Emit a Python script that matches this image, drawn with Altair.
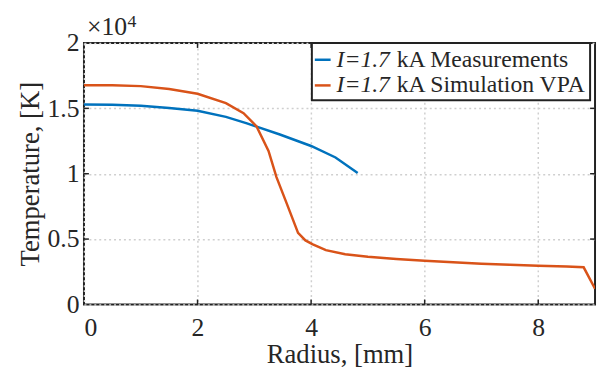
import altair as alt
import pandas as pd

# ---- data ----
series = ["I=1.7 kA Measurements", "I=1.7 kA Simulation VPA"]
colors = ["#0072BD", "#D95319"]

r_meas = [0.0, 0.5, 1.0, 1.5, 2.0, 2.5, 2.87, 3.04, 3.45, 4.0, 4.43, 4.82]
T_meas = [15300, 15280, 15200, 15030, 14810, 14350, 13850, 13600, 13000, 12120, 11240, 10050]

r_sim = [0.0, 0.5, 1.0, 1.5, 2.0, 2.5, 2.81, 3.04, 3.25, 3.39, 3.57, 3.77,
         3.9, 4.03, 4.26, 4.6, 5.0, 5.5, 6.0, 6.5, 7.0, 7.5, 8.0, 8.5, 8.8, 9.0]
T_sim = [16770, 16760, 16700, 16480, 16120, 15400, 14630, 13620, 11750, 9740, 7730, 5470,
         4900, 4600, 4150, 3840, 3650, 3480, 3340, 3220, 3120, 3040, 2960, 2900, 2840, 1200]

x_ticks = [0, 2, 4, 6, 8]
y_ticks = [0, 5000, 10000, 15000, 20000]
x_inner_ticks = [2, 4, 6, 8]
y_inner_ticks = [5000, 10000, 15000]

FONT = "Liberation Serif, Times New Roman, Times, serif"
TXT = "#262626"
W, H = 518, 265

df = pd.concat([
    pd.DataFrame({"r": r_meas, "T": T_meas, "s": series[0]}),
    pd.DataFrame({"r": r_sim, "T": T_sim, "s": series[1]}),
])

xscale = alt.Scale(domain=[0, 9], nice=False, zero=False)
yscale = alt.Scale(domain=[0, 20000], nice=False)

xaxis = alt.Axis(values=x_ticks, title="Radius, [mm]", grid=True, gridDash=[2, 3],
                 gridColor="#cfcfcf", gridWidth=1.5, domain=False, ticks=False,
                 labelExpr="datum.value",
                 labelFont=FONT, labelFontSize=26, labelColor=TXT, labelPadding=10,
                 titleFont=FONT, titleFontSize=27, titleFontWeight="normal",
                 titleColor=TXT, titlePadding=2)
yaxis = alt.Axis(values=y_ticks, title="Temperature, [K]", grid=True, gridDash=[2, 3],
                 gridColor="#cfcfcf", gridWidth=1.5, domain=False, ticks=False,
                 labelExpr="datum.value / 10000",
                 labelFont=FONT, labelFontSize=26, labelColor=TXT, labelPadding=5,
                 titleFont=FONT, titleFontSize=27, titleFontWeight="normal",
                 titleColor=TXT, titlePadding=3)

lines = alt.Chart(df).mark_line(strokeWidth=2.5, clip=True).encode(
    x=alt.X("r:Q", scale=xscale, axis=xaxis),
    y=alt.Y("T:Q", scale=yscale, axis=yaxis),
    color=alt.Color("s:N", scale=alt.Scale(domain=series, range=colors), legend=None),
)

# inward ticks on all four sides
xt = pd.DataFrame({"r": x_inner_ticks})
yt = pd.DataFrame({"T": y_inner_ticks})
tick_b = alt.Chart(xt).mark_rule(color="#222", strokeWidth=1.5).encode(
    x=alt.X("r:Q", scale=xscale), y=alt.value(H), y2=alt.value(H - 5))
tick_t = alt.Chart(xt).mark_rule(color="#222", strokeWidth=1.5).encode(
    x=alt.X("r:Q", scale=xscale), y=alt.value(0), y2=alt.value(5))
tick_l = alt.Chart(yt).mark_rule(color="#222", strokeWidth=1.5).encode(
    y=alt.Y("T:Q", scale=yscale), x=alt.value(0), x2=alt.value(5))
tick_r = alt.Chart(yt).mark_rule(color="#222", strokeWidth=1.5).encode(
    y=alt.Y("T:Q", scale=yscale), x=alt.value(W), x2=alt.value(W - 5))

# exponent label
one = pd.DataFrame({"a": [0]})
exp_main = alt.Chart(one).mark_text(font=FONT, fontSize=26, color=TXT, align="left",
                                    baseline="alphabetic", text="\u00d710").encode(
    x=alt.value(3), y=alt.value(-8))
exp_sup = alt.Chart(one).mark_text(font=FONT, fontSize=18, color=TXT, align="left",
                                   baseline="alphabetic", text="4").encode(
    x=alt.value(44), y=alt.value(-16))

# legend box
LX0, LX1, LY0, LY1 = 231, 513, 0, 58
leg_box = alt.Chart(one).mark_rect(fill="white", stroke="#222", strokeWidth=2).encode(
    x=alt.value(LX0), x2=alt.value(LX1), y=alt.value(LY0), y2=alt.value(LY1))
leg_layers = []
for i, (lab, col) in enumerate(zip(series, colors)):
    yy = 17 + 26 * i
    leg_layers.append(alt.Chart(one).mark_rule(color=col, strokeWidth=2.5).encode(
        x=alt.value(LX0 + 3), x2=alt.value(LX0 + 19), y=alt.value(yy)))
    leg_layers.append(alt.Chart(one).mark_text(font=FONT, fontSize=24, fontStyle="italic",
                                               color=TXT, align="left", baseline="middle",
                                               text=lab.split(" ")[0]).encode(
        x=alt.value(LX0 + 25), y=alt.value(yy)))
    leg_layers.append(alt.Chart(one).mark_text(font=FONT, fontSize=24, color=TXT,
                                               align="left", baseline="middle",
                                               text=" ".join(lab.split(" ")[1:])).encode(
        x=alt.value(LX0 + 86), y=alt.value(yy)))

chart = alt.layer(lines, tick_b, tick_t, tick_l, tick_r, exp_main, exp_sup,
                  leg_box, *leg_layers).properties(
    width=W, height=H,
    autosize=alt.AutoSizeParams(type="none"),
    padding={"left": 77, "top": 33, "right": 2, "bottom": 65},
    background="white",
).configure_view(stroke="#222", strokeWidth=2)

chart.save("out.html", embed_options={"renderer": "svg", "actions": False})
